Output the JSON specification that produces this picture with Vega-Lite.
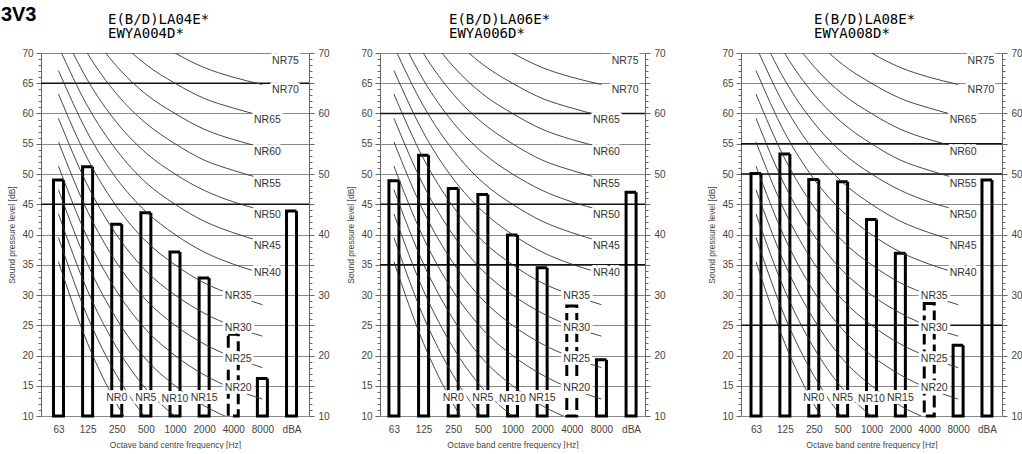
{
  "$schema": "https://vega.github.io/schema/vega-lite/v6.json",
  "padding": {"left": 0, "top": 5, "right": 0, "bottom": 0},
  "title": {"text": "3V3", "anchor": "start", "frame": "bounds", "font": "Liberation Sans", "fontSize": 20, "fontWeight": "bold", "color": "#000", "offset": -12, "dx": -7},
  "config": {
    "view": {"stroke": null},
    "axis": {"labelFont": "Liberation Sans", "titleFont": "Liberation Sans", "labelColor": "#444", "titleColor": "#444", "domainColor": "#666", "tickColor": "#666", "labelFontSize": 10, "titleFontSize": 8.5, "titleFontWeight": "normal"}
  },
  "datasets": {
    "b1": [
      {"f": "63", "v": 49.0, "kind": "measured"},
      {"f": "125", "v": 51.2, "kind": "measured"},
      {"f": "250", "v": 41.7, "kind": "measured"},
      {"f": "500", "v": 43.6, "kind": "measured"},
      {"f": "1000", "v": 37.1, "kind": "measured"},
      {"f": "2000", "v": 32.8, "kind": "measured"},
      {"f": "4000", "v": 23.5, "kind": "estimated"},
      {"f": "8000", "v": 16.2, "kind": "measured"},
      {"f": "dBA", "v": 43.9, "kind": "measured"}
    ],
    "b2": [
      {"f": "63", "v": 48.9, "kind": "measured"},
      {"f": "125", "v": 53.1, "kind": "measured"},
      {"f": "250", "v": 47.6, "kind": "measured"},
      {"f": "500", "v": 46.6, "kind": "measured"},
      {"f": "1000", "v": 39.9, "kind": "measured"},
      {"f": "2000", "v": 34.5, "kind": "measured"},
      {"f": "4000", "v": 28.2, "kind": "estimated"},
      {"f": "8000", "v": 19.3, "kind": "measured"},
      {"f": "dBA", "v": 47.0, "kind": "measured"}
    ],
    "b3": [
      {"f": "63", "v": 50.1, "kind": "measured"},
      {"f": "125", "v": 53.3, "kind": "measured"},
      {"f": "250", "v": 49.1, "kind": "measured"},
      {"f": "500", "v": 48.7, "kind": "measured"},
      {"f": "1000", "v": 42.5, "kind": "measured"},
      {"f": "2000", "v": 36.9, "kind": "measured"},
      {"f": "4000", "v": 28.6, "kind": "estimated"},
      {"f": "8000", "v": 21.7, "kind": "measured"},
      {"f": "dBA", "v": 49.0, "kind": "measured"}
    ],
    "d1": [{"v": 65}, {"v": 45}],
    "d2": [{"v": 60}, {"v": 45}, {"v": 35}],
    "d3": [{"v": 55}, {"v": 50}, {"v": 25}],
    "labels": [
      {"lab": "NR75", "f": "dBA", "v": 68.6},
      {"lab": "NR70", "f": "dBA", "v": 63.9},
      {"lab": "NR65", "f": "8000", "v": 59.0},
      {"lab": "NR60", "f": "8000", "v": 53.6},
      {"lab": "NR55", "f": "8000", "v": 48.4},
      {"lab": "NR50", "f": "8000", "v": 43.2},
      {"lab": "NR45", "f": "8000", "v": 38.1},
      {"lab": "NR40", "f": "8000", "v": 33.6},
      {"lab": "NR35", "f": "4000", "v": 29.9},
      {"lab": "NR30", "f": "4000", "v": 24.6},
      {"lab": "NR25", "f": "4000", "v": 19.5},
      {"lab": "NR20", "f": "4000", "v": 14.7},
      {"lab": "NR0", "f": "250", "v": 13.0},
      {"lab": "NR5", "f": "500", "v": 13.0},
      {"lab": "NR10", "f": "1000", "v": 12.8},
      {"lab": "NR15", "f": "2000", "v": 13.0}
    ],
    "curves": [
      {"nr": "NR0", "f": "63", "v": 35.5}, {"nr": "NR0", "f": "125", "v": 22.0}, {"nr": "NR0", "f": "250", "v": 12.0}, {"nr": "NR0", "f": "500", "v": 4.8}, {"nr": "NR0", "f": "1000", "v": 0}, {"nr": "NR0", "f": "2000", "v": -3.5}, {"nr": "NR0", "f": "4000", "v": -6.1}, {"nr": "NR0", "f": "8000", "v": -8.0},
      {"nr": "NR5", "f": "63", "v": 39.5}, {"nr": "NR5", "f": "125", "v": 26.4}, {"nr": "NR5", "f": "250", "v": 16.7}, {"nr": "NR5", "f": "500", "v": 9.7}, {"nr": "NR5", "f": "1000", "v": 5}, {"nr": "NR5", "f": "2000", "v": 1.6}, {"nr": "NR5", "f": "4000", "v": -1.0}, {"nr": "NR5", "f": "8000", "v": -2.8},
      {"nr": "NR10", "f": "63", "v": 43.4}, {"nr": "NR10", "f": "125", "v": 30.7}, {"nr": "NR10", "f": "250", "v": 21.3}, {"nr": "NR10", "f": "500", "v": 14.5}, {"nr": "NR10", "f": "1000", "v": 10}, {"nr": "NR10", "f": "2000", "v": 6.7}, {"nr": "NR10", "f": "4000", "v": 4.2}, {"nr": "NR10", "f": "8000", "v": 2.4},
      {"nr": "NR15", "f": "63", "v": 47.4}, {"nr": "NR15", "f": "125", "v": 35.1}, {"nr": "NR15", "f": "250", "v": 26.0}, {"nr": "NR15", "f": "500", "v": 19.4}, {"nr": "NR15", "f": "1000", "v": 15}, {"nr": "NR15", "f": "2000", "v": 11.7}, {"nr": "NR15", "f": "4000", "v": 9.4}, {"nr": "NR15", "f": "8000", "v": 7.6},
      {"nr": "NR20", "f": "63", "v": 51.3}, {"nr": "NR20", "f": "125", "v": 39.4}, {"nr": "NR20", "f": "250", "v": 30.6}, {"nr": "NR20", "f": "500", "v": 24.3}, {"nr": "NR20", "f": "1000", "v": 20}, {"nr": "NR20", "f": "2000", "v": 16.8}, {"nr": "NR20", "f": "4000", "v": 14.5}, {"nr": "NR20", "f": "8000", "v": 12.8},
      {"nr": "NR25", "f": "63", "v": 55.3}, {"nr": "NR25", "f": "125", "v": 43.8}, {"nr": "NR25", "f": "250", "v": 35.3}, {"nr": "NR25", "f": "500", "v": 29.2}, {"nr": "NR25", "f": "1000", "v": 25}, {"nr": "NR25", "f": "2000", "v": 21.9}, {"nr": "NR25", "f": "4000", "v": 19.7}, {"nr": "NR25", "f": "8000", "v": 18.0},
      {"nr": "NR30", "f": "63", "v": 59.2}, {"nr": "NR30", "f": "125", "v": 48.1}, {"nr": "NR30", "f": "250", "v": 39.9}, {"nr": "NR30", "f": "500", "v": 34.0}, {"nr": "NR30", "f": "1000", "v": 30}, {"nr": "NR30", "f": "2000", "v": 27.0}, {"nr": "NR30", "f": "4000", "v": 24.8}, {"nr": "NR30", "f": "8000", "v": 23.2},
      {"nr": "NR35", "f": "63", "v": 63.2}, {"nr": "NR35", "f": "125", "v": 52.5}, {"nr": "NR35", "f": "250", "v": 44.6}, {"nr": "NR35", "f": "500", "v": 38.9}, {"nr": "NR35", "f": "1000", "v": 35}, {"nr": "NR35", "f": "2000", "v": 32.0}, {"nr": "NR35", "f": "4000", "v": 30.0}, {"nr": "NR35", "f": "8000", "v": 28.4},
      {"nr": "NR40", "f": "63", "v": 67.1}, {"nr": "NR40", "f": "125", "v": 56.8}, {"nr": "NR40", "f": "250", "v": 49.2}, {"nr": "NR40", "f": "500", "v": 43.8}, {"nr": "NR40", "f": "1000", "v": 40}, {"nr": "NR40", "f": "2000", "v": 37.1}, {"nr": "NR40", "f": "4000", "v": 35.1}, {"nr": "NR40", "f": "8000", "v": 33.6},
      {"nr": "NR45", "f": "63", "v": 71.1}, {"nr": "NR45", "f": "125", "v": 61.2}, {"nr": "NR45", "f": "250", "v": 53.9}, {"nr": "NR45", "f": "500", "v": 48.6}, {"nr": "NR45", "f": "1000", "v": 45}, {"nr": "NR45", "f": "2000", "v": 42.2}, {"nr": "NR45", "f": "4000", "v": 40.3}, {"nr": "NR45", "f": "8000", "v": 38.8},
      {"nr": "NR50", "f": "63", "v": 75.0}, {"nr": "NR50", "f": "125", "v": 65.5}, {"nr": "NR50", "f": "250", "v": 58.5}, {"nr": "NR50", "f": "500", "v": 53.5}, {"nr": "NR50", "f": "1000", "v": 50}, {"nr": "NR50", "f": "2000", "v": 47.3}, {"nr": "NR50", "f": "4000", "v": 45.4}, {"nr": "NR50", "f": "8000", "v": 44.0},
      {"nr": "NR55", "f": "63", "v": 79.0}, {"nr": "NR55", "f": "125", "v": 69.9}, {"nr": "NR55", "f": "250", "v": 63.2}, {"nr": "NR55", "f": "500", "v": 58.4}, {"nr": "NR55", "f": "1000", "v": 55}, {"nr": "NR55", "f": "2000", "v": 52.3}, {"nr": "NR55", "f": "4000", "v": 50.6}, {"nr": "NR55", "f": "8000", "v": 49.2},
      {"nr": "NR60", "f": "63", "v": 82.9}, {"nr": "NR60", "f": "125", "v": 74.2}, {"nr": "NR60", "f": "250", "v": 67.8}, {"nr": "NR60", "f": "500", "v": 63.2}, {"nr": "NR60", "f": "1000", "v": 60}, {"nr": "NR60", "f": "2000", "v": 57.4}, {"nr": "NR60", "f": "4000", "v": 55.7}, {"nr": "NR60", "f": "8000", "v": 54.4},
      {"nr": "NR65", "f": "63", "v": 86.9}, {"nr": "NR65", "f": "125", "v": 78.6}, {"nr": "NR65", "f": "250", "v": 72.5}, {"nr": "NR65", "f": "500", "v": 68.1}, {"nr": "NR65", "f": "1000", "v": 65}, {"nr": "NR65", "f": "2000", "v": 62.5}, {"nr": "NR65", "f": "4000", "v": 60.9}, {"nr": "NR65", "f": "8000", "v": 59.6},
      {"nr": "NR70", "f": "63", "v": 90.8}, {"nr": "NR70", "f": "125", "v": 82.9}, {"nr": "NR70", "f": "250", "v": 77.1}, {"nr": "NR70", "f": "500", "v": 73.0}, {"nr": "NR70", "f": "1000", "v": 70}, {"nr": "NR70", "f": "2000", "v": 67.6}, {"nr": "NR70", "f": "4000", "v": 66.0}, {"nr": "NR70", "f": "8000", "v": 64.8},
      {"nr": "NR75", "f": "63", "v": 94.8}, {"nr": "NR75", "f": "125", "v": 87.3}, {"nr": "NR75", "f": "250", "v": 81.8}, {"nr": "NR75", "f": "500", "v": 77.9}, {"nr": "NR75", "f": "1000", "v": 75}, {"nr": "NR75", "f": "2000", "v": 72.6}, {"nr": "NR75", "f": "4000", "v": 71.2}, {"nr": "NR75", "f": "8000", "v": 70.0}
    ]
  },
  "hconcat": [
    {
      "spacing": 16,
      "hconcat": [
        {
          "width": 268, "height": 363,
          "title": {"text": ["E(B/D)LA04E*", "EWYA004D*"], "anchor": "start", "frame": "group", "dx": 67, "font": "DejaVu Sans Mono", "fontSize": 14, "lineHeight": 14, "fontWeight": "normal", "color": "#000", "offset": 7},
          "resolve": {"axis": {"y": "independent"}},
          "layer": [
            {"data": {"name": "d1"}, "mark": {"type": "rule", "color": "#111", "strokeWidth": 1.3},
             "encoding": {"y": {"field": "v", "type": "quantitative", "scale": {"domain": [10, 70], "nice": false, "zero": false}, "axis": null}}},
            {"data": {"name": "b1"}, "mark": {"type": "bar", "filled": false, "color": "#000", "strokeWidth": 3, "width": 10},
             "encoding": {
               "x": {"field": "f", "type": "ordinal", "sort": ["63", "125", "250", "500", "1000", "2000", "4000", "8000", "dBA"], "scale": {"type": "point", "domain": ["63", "125", "250", "500", "1000", "2000", "4000", "8000", "dBA"], "padding": 0.6}, "axis": {"title": "Octave band centre frequency [Hz]", "labelAngle": 0, "ticks": false, "domain": false, "labelPadding": 8, "titlePadding": 6, "grid": false}},
               "y": {"field": "v", "type": "quantitative", "scale": {"domain": [10, 70], "nice": false, "zero": false}, "axis": {"orient": "left", "title": "Sound pressure level [dB]", "values": [10,11,12,13,14,15,16,17,18,19,20,21,22,23,24,25,26,27,28,29,30,31,32,33,34,35,36,37,38,39,40,41,42,43,44,45,46,47,48,49,50,51,52,53,54,55,56,57,58,59,60,61,62,63,64,65,66,67,68,69,70], "labelExpr": "datum.value % 5 === 0 ? datum.label : ''", "labelOverlap": false, "tickSize": {"condition": {"test": "datum.value % 5 === 0", "value": 5}, "value": 3}, "grid": true, "gridColor": "#8a8a8a", "gridOpacity": {"condition": {"test": "datum.value % 5 === 0", "value": 1}, "value": 0}, "labelPadding": 3, "titlePadding": 5}},
               "y2": {"datum": 10},
               "strokeDash": {"field": "kind", "type": "nominal", "scale": {"domain": ["measured", "estimated"], "range": [[1, 0], [12, 5]]}, "legend": null}
             }},
            {"data": {"name": "curves"}, "mark": {"type": "line", "interpolate": "monotone", "clip": true, "color": "#333", "strokeWidth": 0.9},
             "encoding": {
               "x": {"field": "f", "type": "ordinal", "sort": ["63", "125", "250", "500", "1000", "2000", "4000", "8000", "dBA"]},
               "y": {"field": "v", "type": "quantitative", "scale": {"domain": [10, 70], "nice": false, "zero": false}, "axis": {"orient": "right", "title": null, "values": [10,11,12,13,14,15,16,17,18,19,20,21,22,23,24,25,26,27,28,29,30,31,32,33,34,35,36,37,38,39,40,41,42,43,44,45,46,47,48,49,50,51,52,53,54,55,56,57,58,59,60,61,62,63,64,65,66,67,68,69,70], "labelExpr": "datum.value % 10 === 0 ? datum.label : ''", "labelOverlap": false, "tickSize": {"condition": {"test": "datum.value % 5 === 0", "value": 5}, "value": 3}, "grid": false, "labelPadding": 4}},
               "detail": {"field": "nr"}
             }},
            {"data": {"name": "labels"}, "transform": [{"filter": "datum.f == 'dBA'"}], "mark": {"type": "text", "dx": -6, "font": "Liberation Sans", "fontSize": 10.5, "fill": "white", "stroke": "white", "strokeWidth": 6, "strokeJoin": "round"},
             "encoding": {"x": {"field": "f", "type": "ordinal", "sort": ["63", "125", "250", "500", "1000", "2000", "4000", "8000", "dBA"]}, "y": {"field": "v", "type": "quantitative", "axis": null}, "text": {"field": "lab"}}},
            {"data": {"name": "labels"}, "transform": [{"filter": "datum.f == '4000' || datum.f == '8000'"}], "mark": {"type": "text", "dx": 5, "font": "Liberation Sans", "fontSize": 10.5, "fill": "white", "stroke": "white", "strokeWidth": 6, "strokeJoin": "round"},
             "encoding": {"x": {"field": "f", "type": "ordinal", "sort": ["63", "125", "250", "500", "1000", "2000", "4000", "8000", "dBA"]}, "y": {"field": "v", "type": "quantitative", "axis": null}, "text": {"field": "lab"}}},
            {"data": {"name": "labels"}, "transform": [{"filter": "datum.f != 'dBA' && datum.f != '4000' && datum.f != '8000'"}], "mark": {"type": "text", "dx": 0, "font": "Liberation Sans", "fontSize": 10.5, "fill": "white", "stroke": "white", "strokeWidth": 6, "strokeJoin": "round"},
             "encoding": {"x": {"field": "f", "type": "ordinal", "sort": ["63", "125", "250", "500", "1000", "2000", "4000", "8000", "dBA"]}, "y": {"field": "v", "type": "quantitative", "axis": null}, "text": {"field": "lab"}}},
            {"data": {"name": "labels"}, "transform": [{"filter": "datum.f == 'dBA'"}], "mark": {"type": "text", "dx": -6, "font": "Liberation Sans", "fontSize": 10.5, "fill": "#333"},
             "encoding": {"x": {"field": "f", "type": "ordinal", "sort": ["63", "125", "250", "500", "1000", "2000", "4000", "8000", "dBA"]}, "y": {"field": "v", "type": "quantitative", "axis": null}, "text": {"field": "lab"}}},
            {"data": {"name": "labels"}, "transform": [{"filter": "datum.f == '4000' || datum.f == '8000'"}], "mark": {"type": "text", "dx": 5, "font": "Liberation Sans", "fontSize": 10.5, "fill": "#333"},
             "encoding": {"x": {"field": "f", "type": "ordinal", "sort": ["63", "125", "250", "500", "1000", "2000", "4000", "8000", "dBA"]}, "y": {"field": "v", "type": "quantitative", "axis": null}, "text": {"field": "lab"}}},
            {"data": {"name": "labels"}, "transform": [{"filter": "datum.f != 'dBA' && datum.f != '4000' && datum.f != '8000'"}], "mark": {"type": "text", "dx": 0, "font": "Liberation Sans", "fontSize": 10.5, "fill": "#333"},
             "encoding": {"x": {"field": "f", "type": "ordinal", "sort": ["63", "125", "250", "500", "1000", "2000", "4000", "8000", "dBA"]}, "y": {"field": "v", "type": "quantitative", "axis": null}, "text": {"field": "lab"}}}
          ]
        },
        {
          "width": 265, "height": 363,
          "title": {"text": ["E(B/D)LA06E*", "EWYA006D*"], "anchor": "start", "frame": "group", "dx": 69, "font": "DejaVu Sans Mono", "fontSize": 14, "lineHeight": 14, "fontWeight": "normal", "color": "#000", "offset": 7},
          "resolve": {"axis": {"y": "independent"}},
          "layer": [
            {"data": {"name": "d2"}, "mark": {"type": "rule", "color": "#111", "strokeWidth": 1.3},
             "encoding": {"y": {"field": "v", "type": "quantitative", "scale": {"domain": [10, 70], "nice": false, "zero": false}, "axis": null}}},
            {"data": {"name": "b2"}, "mark": {"type": "bar", "filled": false, "color": "#000", "strokeWidth": 3, "width": 10},
             "encoding": {
               "x": {"field": "f", "type": "ordinal", "sort": ["63", "125", "250", "500", "1000", "2000", "4000", "8000", "dBA"], "scale": {"type": "point", "domain": ["63", "125", "250", "500", "1000", "2000", "4000", "8000", "dBA"], "padding": 0.47}, "axis": {"title": "Octave band centre frequency [Hz]", "labelAngle": 0, "ticks": false, "domain": false, "labelPadding": 8, "titlePadding": 6, "grid": false}},
               "y": {"field": "v", "type": "quantitative", "scale": {"domain": [10, 70], "nice": false, "zero": false}, "axis": {"orient": "left", "title": "Sound pressure level [dB]", "values": [10,11,12,13,14,15,16,17,18,19,20,21,22,23,24,25,26,27,28,29,30,31,32,33,34,35,36,37,38,39,40,41,42,43,44,45,46,47,48,49,50,51,52,53,54,55,56,57,58,59,60,61,62,63,64,65,66,67,68,69,70], "labelExpr": "datum.value % 5 === 0 ? datum.label : ''", "labelOverlap": false, "tickSize": {"condition": {"test": "datum.value % 5 === 0", "value": 5}, "value": 3}, "grid": true, "gridColor": "#8a8a8a", "gridOpacity": {"condition": {"test": "datum.value % 5 === 0", "value": 1}, "value": 0}, "labelPadding": 3, "titlePadding": 5}},
               "y2": {"datum": 10},
               "strokeDash": {"field": "kind", "type": "nominal", "scale": {"domain": ["measured", "estimated"], "range": [[1, 0], [12, 5]]}, "legend": null}
             }},
            {"data": {"name": "curves"}, "mark": {"type": "line", "interpolate": "monotone", "clip": true, "color": "#333", "strokeWidth": 0.9},
             "encoding": {
               "x": {"field": "f", "type": "ordinal", "sort": ["63", "125", "250", "500", "1000", "2000", "4000", "8000", "dBA"]},
               "y": {"field": "v", "type": "quantitative", "scale": {"domain": [10, 70], "nice": false, "zero": false}, "axis": {"orient": "right", "title": null, "values": [10,11,12,13,14,15,16,17,18,19,20,21,22,23,24,25,26,27,28,29,30,31,32,33,34,35,36,37,38,39,40,41,42,43,44,45,46,47,48,49,50,51,52,53,54,55,56,57,58,59,60,61,62,63,64,65,66,67,68,69,70], "labelExpr": "datum.value % 10 === 0 ? datum.label : ''", "labelOverlap": false, "tickSize": {"condition": {"test": "datum.value % 5 === 0", "value": 5}, "value": 3}, "grid": false, "labelPadding": 4}},
               "detail": {"field": "nr"}
             }},
            {"data": {"name": "labels"}, "transform": [{"filter": "datum.f == 'dBA'"}], "mark": {"type": "text", "dx": -6, "font": "Liberation Sans", "fontSize": 10.5, "fill": "white", "stroke": "white", "strokeWidth": 6, "strokeJoin": "round"},
             "encoding": {"x": {"field": "f", "type": "ordinal", "sort": ["63", "125", "250", "500", "1000", "2000", "4000", "8000", "dBA"]}, "y": {"field": "v", "type": "quantitative", "axis": null}, "text": {"field": "lab"}}},
            {"data": {"name": "labels"}, "transform": [{"filter": "datum.f == '4000' || datum.f == '8000'"}], "mark": {"type": "text", "dx": 5, "font": "Liberation Sans", "fontSize": 10.5, "fill": "white", "stroke": "white", "strokeWidth": 6, "strokeJoin": "round"},
             "encoding": {"x": {"field": "f", "type": "ordinal", "sort": ["63", "125", "250", "500", "1000", "2000", "4000", "8000", "dBA"]}, "y": {"field": "v", "type": "quantitative", "axis": null}, "text": {"field": "lab"}}},
            {"data": {"name": "labels"}, "transform": [{"filter": "datum.f != 'dBA' && datum.f != '4000' && datum.f != '8000'"}], "mark": {"type": "text", "dx": 0, "font": "Liberation Sans", "fontSize": 10.5, "fill": "white", "stroke": "white", "strokeWidth": 6, "strokeJoin": "round"},
             "encoding": {"x": {"field": "f", "type": "ordinal", "sort": ["63", "125", "250", "500", "1000", "2000", "4000", "8000", "dBA"]}, "y": {"field": "v", "type": "quantitative", "axis": null}, "text": {"field": "lab"}}},
            {"data": {"name": "labels"}, "transform": [{"filter": "datum.f == 'dBA'"}], "mark": {"type": "text", "dx": -6, "font": "Liberation Sans", "fontSize": 10.5, "fill": "#333"},
             "encoding": {"x": {"field": "f", "type": "ordinal", "sort": ["63", "125", "250", "500", "1000", "2000", "4000", "8000", "dBA"]}, "y": {"field": "v", "type": "quantitative", "axis": null}, "text": {"field": "lab"}}},
            {"data": {"name": "labels"}, "transform": [{"filter": "datum.f == '4000' || datum.f == '8000'"}], "mark": {"type": "text", "dx": 5, "font": "Liberation Sans", "fontSize": 10.5, "fill": "#333"},
             "encoding": {"x": {"field": "f", "type": "ordinal", "sort": ["63", "125", "250", "500", "1000", "2000", "4000", "8000", "dBA"]}, "y": {"field": "v", "type": "quantitative", "axis": null}, "text": {"field": "lab"}}},
            {"data": {"name": "labels"}, "transform": [{"filter": "datum.f != 'dBA' && datum.f != '4000' && datum.f != '8000'"}], "mark": {"type": "text", "dx": 0, "font": "Liberation Sans", "fontSize": 10.5, "fill": "#333"},
             "encoding": {"x": {"field": "f", "type": "ordinal", "sort": ["63", "125", "250", "500", "1000", "2000", "4000", "8000", "dBA"]}, "y": {"field": "v", "type": "quantitative", "axis": null}, "text": {"field": "lab"}}}
          ]
        }
      ]
    },
    {
      "width": 261, "height": 363,
      "title": {"text": ["E(B/D)LA08E*", "EWYA008D*"], "anchor": "start", "frame": "group", "dx": 73, "font": "DejaVu Sans Mono", "fontSize": 14, "lineHeight": 14, "fontWeight": "normal", "color": "#000", "offset": 7},
      "resolve": {"axis": {"y": "independent"}},
      "layer": [
        {"data": {"name": "d3"}, "mark": {"type": "rule", "color": "#111", "strokeWidth": 1.3},
         "encoding": {"y": {"field": "v", "type": "quantitative", "scale": {"domain": [10, 70], "nice": false, "zero": false}, "axis": null}}},
        {"data": {"name": "b3"}, "mark": {"type": "bar", "filled": false, "color": "#000", "strokeWidth": 3, "width": 10},
         "encoding": {
           "x": {"field": "f", "type": "ordinal", "sort": ["63", "125", "250", "500", "1000", "2000", "4000", "8000", "dBA"], "scale": {"type": "point", "domain": ["63", "125", "250", "500", "1000", "2000", "4000", "8000", "dBA"], "padding": 0.52}, "axis": {"title": "Octave band centre frequency [Hz]", "labelAngle": 0, "ticks": false, "domain": false, "labelPadding": 8, "titlePadding": 6, "grid": false}},
           "y": {"field": "v", "type": "quantitative", "scale": {"domain": [10, 70], "nice": false, "zero": false}, "axis": {"orient": "left", "title": "Sound pressure level [dB]", "values": [10,11,12,13,14,15,16,17,18,19,20,21,22,23,24,25,26,27,28,29,30,31,32,33,34,35,36,37,38,39,40,41,42,43,44,45,46,47,48,49,50,51,52,53,54,55,56,57,58,59,60,61,62,63,64,65,66,67,68,69,70], "labelExpr": "datum.value % 5 === 0 ? datum.label : ''", "labelOverlap": false, "tickSize": {"condition": {"test": "datum.value % 5 === 0", "value": 5}, "value": 3}, "grid": true, "gridColor": "#8a8a8a", "gridOpacity": {"condition": {"test": "datum.value % 5 === 0", "value": 1}, "value": 0}, "labelPadding": 3, "titlePadding": 5}},
           "y2": {"datum": 10},
           "strokeDash": {"field": "kind", "type": "nominal", "scale": {"domain": ["measured", "estimated"], "range": [[1, 0], [12, 5]]}, "legend": null}
         }},
        {"data": {"name": "curves"}, "mark": {"type": "line", "interpolate": "monotone", "clip": true, "color": "#333", "strokeWidth": 0.9},
         "encoding": {
           "x": {"field": "f", "type": "ordinal", "sort": ["63", "125", "250", "500", "1000", "2000", "4000", "8000", "dBA"]},
           "y": {"field": "v", "type": "quantitative", "scale": {"domain": [10, 70], "nice": false, "zero": false}, "axis": {"orient": "right", "title": null, "values": [10,11,12,13,14,15,16,17,18,19,20,21,22,23,24,25,26,27,28,29,30,31,32,33,34,35,36,37,38,39,40,41,42,43,44,45,46,47,48,49,50,51,52,53,54,55,56,57,58,59,60,61,62,63,64,65,66,67,68,69,70], "labelExpr": "datum.value % 10 === 0 ? datum.label : ''", "labelOverlap": false, "tickSize": {"condition": {"test": "datum.value % 5 === 0", "value": 5}, "value": 3}, "grid": false, "labelPadding": 4}},
           "detail": {"field": "nr"}
         }},
        {"data": {"name": "labels"}, "transform": [{"filter": "datum.f == 'dBA'"}], "mark": {"type": "text", "dx": -6, "font": "Liberation Sans", "fontSize": 10.5, "fill": "white", "stroke": "white", "strokeWidth": 6, "strokeJoin": "round"},
         "encoding": {"x": {"field": "f", "type": "ordinal", "sort": ["63", "125", "250", "500", "1000", "2000", "4000", "8000", "dBA"]}, "y": {"field": "v", "type": "quantitative", "axis": null}, "text": {"field": "lab"}}},
        {"data": {"name": "labels"}, "transform": [{"filter": "datum.f == '4000' || datum.f == '8000'"}], "mark": {"type": "text", "dx": 5, "font": "Liberation Sans", "fontSize": 10.5, "fill": "white", "stroke": "white", "strokeWidth": 6, "strokeJoin": "round"},
         "encoding": {"x": {"field": "f", "type": "ordinal", "sort": ["63", "125", "250", "500", "1000", "2000", "4000", "8000", "dBA"]}, "y": {"field": "v", "type": "quantitative", "axis": null}, "text": {"field": "lab"}}},
        {"data": {"name": "labels"}, "transform": [{"filter": "datum.f != 'dBA' && datum.f != '4000' && datum.f != '8000'"}], "mark": {"type": "text", "dx": 0, "font": "Liberation Sans", "fontSize": 10.5, "fill": "white", "stroke": "white", "strokeWidth": 6, "strokeJoin": "round"},
         "encoding": {"x": {"field": "f", "type": "ordinal", "sort": ["63", "125", "250", "500", "1000", "2000", "4000", "8000", "dBA"]}, "y": {"field": "v", "type": "quantitative", "axis": null}, "text": {"field": "lab"}}},
        {"data": {"name": "labels"}, "transform": [{"filter": "datum.f == 'dBA'"}], "mark": {"type": "text", "dx": -6, "font": "Liberation Sans", "fontSize": 10.5, "fill": "#333"},
         "encoding": {"x": {"field": "f", "type": "ordinal", "sort": ["63", "125", "250", "500", "1000", "2000", "4000", "8000", "dBA"]}, "y": {"field": "v", "type": "quantitative", "axis": null}, "text": {"field": "lab"}}},
        {"data": {"name": "labels"}, "transform": [{"filter": "datum.f == '4000' || datum.f == '8000'"}], "mark": {"type": "text", "dx": 5, "font": "Liberation Sans", "fontSize": 10.5, "fill": "#333"},
         "encoding": {"x": {"field": "f", "type": "ordinal", "sort": ["63", "125", "250", "500", "1000", "2000", "4000", "8000", "dBA"]}, "y": {"field": "v", "type": "quantitative", "axis": null}, "text": {"field": "lab"}}},
        {"data": {"name": "labels"}, "transform": [{"filter": "datum.f != 'dBA' && datum.f != '4000' && datum.f != '8000'"}], "mark": {"type": "text", "dx": 0, "font": "Liberation Sans", "fontSize": 10.5, "fill": "#333"},
         "encoding": {"x": {"field": "f", "type": "ordinal", "sort": ["63", "125", "250", "500", "1000", "2000", "4000", "8000", "dBA"]}, "y": {"field": "v", "type": "quantitative", "axis": null}, "text": {"field": "lab"}}}
      ]
    }
  ],
  "spacing": 41
}
